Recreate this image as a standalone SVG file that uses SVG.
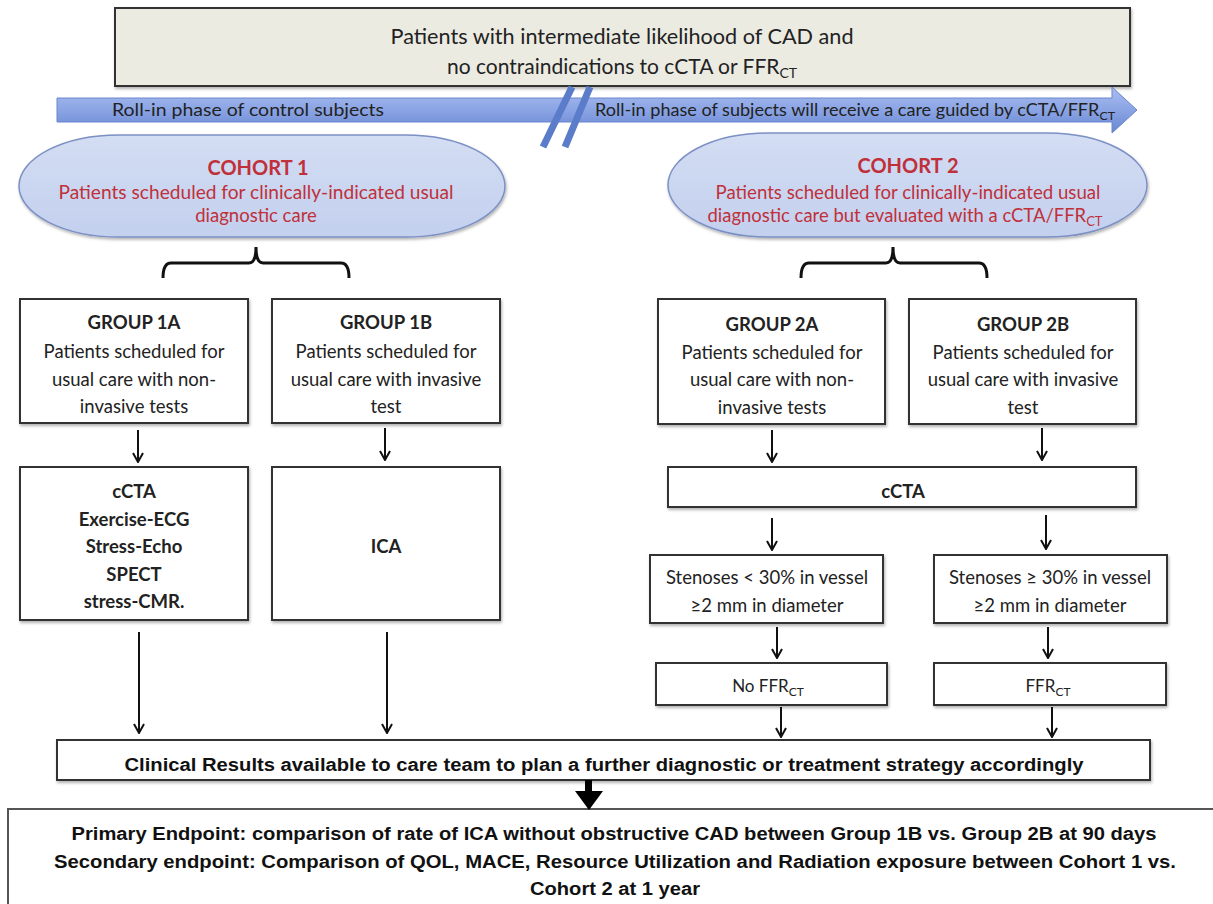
<svg xmlns="http://www.w3.org/2000/svg" width="1213" height="904" viewBox="0 0 1213 904">
<defs>
<linearGradient id="band" x1="0" y1="0" x2="0" y2="1">
<stop offset="0" stop-color="#aabdf0"/>
<stop offset="0.5" stop-color="#8aa4e4"/>
<stop offset="1" stop-color="#6886d2"/>
</linearGradient>
<linearGradient id="oval" x1="0" y1="0" x2="0" y2="1">
<stop offset="0" stop-color="#d3ddf3"/>
<stop offset="1" stop-color="#c3d0ee"/>
</linearGradient>
<filter id="sh" x="-5%" y="-5%" width="110%" height="120%">
<feDropShadow dx="1" dy="2" stdDeviation="1.5" flood-color="#000" flood-opacity="0.3"/>
</filter>
<marker id="ah" viewBox="0 0 12 12" refX="11" refY="6" markerWidth="12" markerHeight="12" markerUnits="userSpaceOnUse" orient="auto">
<path d="M2,1 L11,6 L2,11" fill="none" stroke="#111" stroke-width="2"/>
</marker>
</defs>
<style>
.box{fill:#fff;stroke:#333;stroke-width:2;filter:url(#sh)}
.t{font-family:Lato,"Open Sans","Liberation Sans",sans-serif;fill:#222;text-anchor:middle}
.g{font-size:18.5px}
.b{font-weight:bold}
.red{fill:#c0303a}
.bt{font-family:"Liberation Sans",Arial,sans-serif;font-weight:bold;fill:#111;text-anchor:middle;font-size:18px}
.conn line{stroke:#111;stroke-width:2;marker-end:url(#ah)}
</style>
<rect width="1213" height="904" fill="#fff"/>

<g id="top">
<rect x="115" y="8" width="1015" height="78" fill="#ebebe2" stroke="#333" stroke-width="2" filter="url(#sh)"/>
<text class="t" x="622" y="44" font-size="21" textLength="463" lengthAdjust="spacingAndGlyphs">Patients with intermediate likelihood of CAD and</text>
<text class="t" x="622" y="74" font-size="21">no contraindications to cCTA or FFR<tspan font-size="14" dy="4">CT</tspan></text>
</g>

<g id="band">
<polygon points="57,98 1112,98 1112,87 1137,110 1112,133 1112,122 57,122" fill="url(#band)" stroke="#6a86cc" stroke-width="1"/>
<text class="t" x="112" y="116" font-size="17.5" style="text-anchor:start" textLength="272" lengthAdjust="spacingAndGlyphs">Roll-in phase of control subjects</text>
<text class="t" x="595" y="116" font-size="17.5" style="text-anchor:start" textLength="520" lengthAdjust="spacingAndGlyphs">Roll-in phase of subjects will receive a care guided by cCTA/FFR<tspan font-size="12" dy="4">CT</tspan></text>
<line x1="572" y1="87" x2="543" y2="147" stroke="#5b7cc8" stroke-width="7"/>
<line x1="590" y1="87" x2="565" y2="147" stroke="#5b7cc8" stroke-width="7"/>
</g>

<g id="cohort1">
<rect x="19" y="135" width="486" height="102" rx="100" ry="51" fill="url(#oval)" stroke="#7c90c4" stroke-width="1.5" filter="url(#sh)"/>
<text class="t red b" x="258" y="175" font-size="20">COHORT 1</text>
<text class="t red" x="256" y="199" font-size="18.5" textLength="395" lengthAdjust="spacingAndGlyphs">Patients scheduled for clinically-indicated usual</text>
<text class="t red" x="256" y="222" font-size="18.5">diagnostic care</text>
</g>

<g id="cohort2">
<rect x="668" y="133" width="479" height="104" rx="100" ry="52" fill="url(#oval)" stroke="#7c90c4" stroke-width="1.5" filter="url(#sh)"/>
<text class="t red b" x="908" y="173" font-size="20">COHORT 2</text>
<text class="t red" x="908" y="199" font-size="18.5" textLength="385" lengthAdjust="spacingAndGlyphs">Patients scheduled for clinically-indicated usual</text>
<text class="t red" x="905" y="222" font-size="18.5" textLength="395" lengthAdjust="spacingAndGlyphs">diagnostic care but evaluated with a cCTA/FFR<tspan font-size="13" dy="4">CT</tspan></text>
</g>

<g id="brackets" fill="none" stroke="#111" stroke-width="3">
<path d="M163,278 Q163,263 171,263 L249,263 Q256,263 256,247 Q256,263 263,263 L341,263 Q349,263 349,278"/>
<path d="M801,278 Q801,263 809,263 L886,263 Q893,263 893,247 Q893,263 900,263 L979,263 Q987,263 987,278"/>
</g>

<g id="group1a">
<rect class="box" x="20" y="299" width="228" height="124"/>
<text class="t g b" x="134" y="329">GROUP 1A</text>
<text class="t g" x="134" y="358">Patients scheduled for</text>
<text class="t g" x="134" y="386">usual care with non-</text>
<text class="t g" x="134" y="413">invasive tests</text>
</g>
<g id="group1b">
<rect class="box" x="272" y="299" width="228" height="124"/>
<text class="t g b" x="386" y="329">GROUP 1B</text>
<text class="t g" x="386" y="358">Patients scheduled for</text>
<text class="t g" x="386" y="386">usual care with invasive</text>
<text class="t g" x="386" y="413">test</text>
</g>
<g id="tests1a">
<rect class="box" x="20" y="467" width="228" height="153"/>
<text class="t g b" x="134" y="498">cCTA</text>
<text class="t g b" x="134" y="526">Exercise-ECG</text>
<text class="t g b" x="134" y="553">Stress-Echo</text>
<text class="t g b" x="134" y="581">SPECT</text>
<text class="t g b" x="134" y="608">stress-CMR.</text>
</g>
<g id="ica">
<rect class="box" x="272" y="467" width="228" height="153"/>
<text class="t g b" x="386" y="553">ICA</text>
</g>

<g id="group2a">
<rect class="box" x="658" y="299" width="227" height="125"/>
<text class="t g b" x="772" y="331">GROUP 2A</text>
<text class="t g" x="772" y="359">Patients scheduled for</text>
<text class="t g" x="772" y="386">usual care with non-</text>
<text class="t g" x="772" y="414">invasive tests</text>
</g>
<g id="group2b">
<rect class="box" x="909" y="299" width="227" height="125"/>
<text class="t g b" x="1023" y="331">GROUP 2B</text>
<text class="t g" x="1023" y="359">Patients scheduled for</text>
<text class="t g" x="1023" y="386">usual care with invasive</text>
<text class="t g" x="1023" y="414">test</text>
</g>
<g id="cctaBox">
<rect class="box" x="668" y="467" width="468" height="40"/>
<text class="t g b" x="903" y="498">cCTA</text>
</g>
<g id="stenLow">
<rect class="box" x="650" y="555" width="233" height="68"/>
<text class="t g" x="767" y="584">Stenoses &lt; 30% in vessel</text>
<text class="t g" x="767" y="612">≥2 mm in diameter</text>
</g>
<g id="stenHigh">
<rect class="box" x="934" y="555" width="233" height="68"/>
<text class="t g" x="1050" y="584">Stenoses ≥ 30% in vessel</text>
<text class="t g" x="1050" y="612">≥2 mm in diameter</text>
</g>
<g id="noFFR">
<rect class="box" x="656" y="663" width="231" height="42"/>
<text class="t" x="768" y="692" font-size="17">No FFR<tspan font-size="12" dy="4">CT</tspan></text>
</g>
<g id="FFR">
<rect class="box" x="934" y="663" width="232" height="42"/>
<text class="t" x="1048" y="692" font-size="17">FFR<tspan font-size="12" dy="4">CT</tspan></text>
</g>

<g id="clinical">
<rect class="box" x="57" y="740" width="1093" height="40"/>
<text class="bt" x="604" y="771" textLength="959" lengthAdjust="spacingAndGlyphs">Clinical Results available to care team to plan a further diagnostic or treatment strategy accordingly</text>
</g>

<g id="endpoints">
<rect x="8" y="809" width="1220" height="110" fill="#fff" stroke="#555" stroke-width="2"/>
<text class="bt" x="614" y="840" textLength="1085" lengthAdjust="spacingAndGlyphs">Primary Endpoint: comparison of rate of ICA without obstructive CAD between Group 1B vs. Group 2B at 90 days</text>
<text class="bt" x="615" y="868" textLength="1122" lengthAdjust="spacingAndGlyphs">Secondary endpoint:  Comparison of QOL, MACE, Resource Utilization and Radiation exposure between Cohort 1 vs.</text>
<text class="bt" x="615" y="895" textLength="170" lengthAdjust="spacingAndGlyphs">Cohort 2 at 1 year</text>
</g>

<g id="connectors" class="conn">
<line x1="138" y1="430" x2="138" y2="462"/>
<line x1="385" y1="428" x2="385" y2="460"/>
<line x1="139" y1="632" x2="139" y2="733"/>
<line x1="387" y1="632" x2="387" y2="733"/>
<line x1="772" y1="430" x2="772" y2="462"/>
<line x1="1042" y1="428" x2="1042" y2="460"/>
<line x1="772" y1="518" x2="772" y2="550"/>
<line x1="1046" y1="515" x2="1046" y2="549"/>
<line x1="777" y1="627" x2="777" y2="658"/>
<line x1="1048" y1="627" x2="1048" y2="658"/>
<line x1="781" y1="707" x2="781" y2="737"/>
<line x1="1052" y1="707" x2="1052" y2="737"/>
<path d="M585,780 L592,780 L592,791 L603,791 L589,810 L575,791 L585,791 Z" fill="#000" stroke="none"/>
</g>
</svg>
